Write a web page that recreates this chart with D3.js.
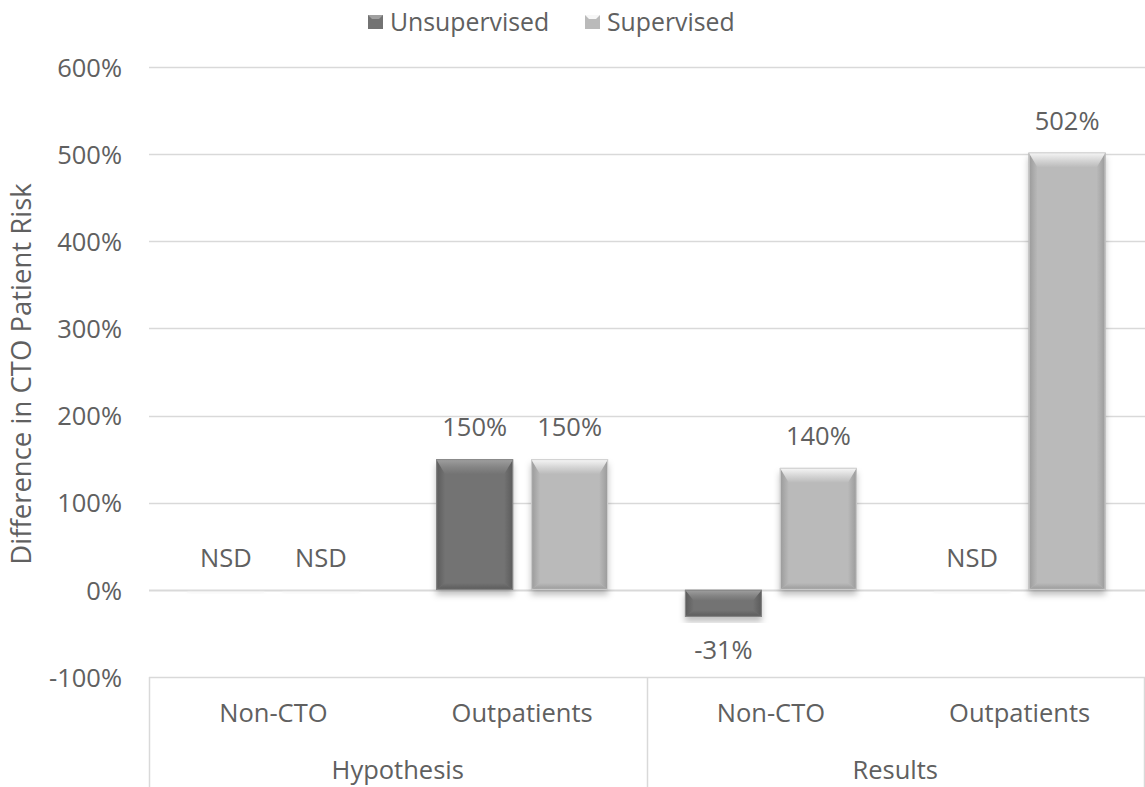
<!DOCTYPE html>
<html>
<head>
<meta charset="utf-8">
<script src="https://cdn.jsdelivr.net/npm/d3@7"></script>
<style>
  html, body { margin: 0; padding: 0; background: #ffffff; }
  svg { display: block; font-family: "Open Sans", sans-serif; }
  text { fill: #606060; }
</style>
</head>
<body>
<svg id="chart" width="1145" height="787"></svg>
<script>
// Chart data
const groups = ["Hypothesis", "Results"];
const categories = ["Non-CTO", "Outpatients"];
const seriesNames = ["Unsupervised", "Supervised"];
// values in percent; null means no significant difference (shown as NSD)
const unsupervised = [null, 150, -31, null];
const supervised = [null, 150, 140, 502];
const yTicks = [-100, 0, 100, 200, 300, 400, 500, 600];
const yTitle = "Difference in CTO Patient Risk";

const svg = d3.select("#chart");
const W = 1145, H = 787;
const plot = { left: 149, right: 1144, top: 67, bottom: 677 };
const FS = 25.5;

// one slot per group/category pair
const slots = [];
groups.forEach(g => categories.forEach(c => slots.push(g + "|" + c)));

const x0 = d3.scaleBand().domain(slots).range([plot.left, plot.right]);
const x1 = d3.scaleBand().domain(seriesNames).range([0, x0.bandwidth()]).paddingInner(0.19).paddingOuter(0.405);
const y = d3.scaleLinear().domain([-100, 600]).range([plot.bottom, plot.top]);

const colors = {
  Unsupervised: { base: "#737373", light: "#a0a0a0", mid: "#848484", dark: "#5a5a5a", edge: "#888888" },
  Supervised:   { base: "#bababa", light: "#f7f7f7", mid: "#d4d4d4", dark: "#999999", edge: "#d0d0d0" }
};

const defs = svg.append("defs");
const shadow = defs.append("filter").attr("id", "shadow")
  .attr("x", "-20%").attr("y", "-20%").attr("width", "140%").attr("height", "140%");
shadow.append("feDropShadow").attr("dx", 0).attr("dy", 5).attr("stdDeviation", 3)
  .attr("flood-color", "#000").attr("flood-opacity", 0.25);

// bevel gradients per series
function grad(id, x1g, y1g, x2g, y2g, stops) {
  const g = defs.append("linearGradient").attr("id", id)
    .attr("x1", x1g).attr("y1", y1g).attr("x2", x2g).attr("y2", y2g);
  stops.forEach(s => g.append("stop").attr("offset", s[0]).attr("stop-color", s[1]));
}
seriesNames.forEach(s => {
  const c = colors[s];
  grad("top-" + s, 0, 0, 0, 1, [[0, c.light], [0.55, c.mid], [1, c.base]]);
  grad("left-" + s, 0, 0, 1, 0, [[0, c.dark], [1, c.base]]);
  grad("right-" + s, 1, 0, 0, 0, [[0, c.dark], [1, c.base]]);
  grad("bottom-" + s, 0, 1, 0, 0, [[0, c.dark], [1, c.base]]);
});

// gridlines
svg.append("g").selectAll("line").data(yTicks).join("line")
  .attr("x1", plot.left).attr("x2", W)
  .attr("y1", d => Math.round(y(d)) + 0.5).attr("y2", d => Math.round(y(d)) + 0.5)
  .attr("stroke", "#d9d9d9").attr("stroke-width", d => d === 0 ? 2 : 1.3);

// y axis
const yAxis = svg.append("g").attr("transform", `translate(${plot.left - 27},0)`)
  .call(d3.axisLeft(y).tickValues(yTicks).tickFormat(d => d + "%").tickSize(0).tickPadding(0));
yAxis.select(".domain").remove();
yAxis.selectAll("text").attr("font-size", FS).attr("fill", "#606060")
  .attr("font-family", "Open Sans, sans-serif").attr("dy", "0.36em");

// y title
svg.append("text")
  .attr("transform", `translate(31,${374}) rotate(-90)`)
  .attr("text-anchor", "middle").attr("font-size", 27.5).text(yTitle);

// bars
const rows = [];
slots.forEach((s, i) => {
  rows.push({ slot: s, series: "Unsupervised", value: unsupervised[i] });
  rows.push({ slot: s, series: "Supervised", value: supervised[i] });
});

const barG = svg.append("g");
rows.forEach(r => {
  const v = r.value === null ? 0 : r.value;
  const bx = x0(r.slot) + x1(r.series);
  const bw = x1.bandwidth();
  const y0 = y(0), yv = y(v);
  const by = Math.min(y0, yv);
  const bh = Math.abs(y0 - yv);
  const c = colors[r.series];
  const s = r.series;
  const g = barG.append("g");
  if (r.value === null) {
    // zero-height bar: only a faint shadow remains visible
    g.append("rect").attr("x", bx).attr("y", y0 + 1).attr("width", bw).attr("height", 2)
      .attr("fill", "#f3f3f3").attr("filter", "url(#shadow)").attr("opacity", 0.45);
    return;
  }
  g.append("rect").attr("x", bx).attr("y", by).attr("width", bw).attr("height", bh)
    .attr("fill", c.base).attr("filter", "url(#shadow)");
  const bt = Math.min(15, bh * 0.4);   // top bevel depth
  const bb = Math.min(7, bh * 0.25);   // bottom bevel depth
  const bs = 9;                         // side bevel width
  const x2 = bx + bw, y2 = by + bh;
  g.append("path").attr("d", `M${bx},${by}L${bx + bs},${by + bt}L${bx + bs},${y2 - bb}L${bx},${y2}Z`).attr("fill", `url(#left-${s})`);
  g.append("path").attr("d", `M${x2},${by}L${x2 - bs},${by + bt}L${x2 - bs},${y2 - bb}L${x2},${y2}Z`).attr("fill", `url(#right-${s})`);
  g.append("path").attr("d", `M${bx},${y2}L${x2},${y2}L${x2 - bs},${y2 - bb}L${bx + bs},${y2 - bb}Z`).attr("fill", `url(#bottom-${s})`);
  g.append("path").attr("d", `M${bx},${by}L${x2},${by}L${x2 - bs},${by + bt}L${bx + bs},${by + bt}Z`).attr("fill", `url(#top-${s})`);
  g.append("rect").attr("x", bx + 0.5).attr("y", by + 0.5).attr("width", bw - 1).attr("height", bh - 1)
    .attr("fill", "none").attr("stroke", c.edge).attr("stroke-width", 1);
});

// value labels
svg.append("g").selectAll("text").data(rows).join("text")
  .attr("x", d => x0(d.slot) + x1(d.series) + x1.bandwidth() / 2)
  .attr("y", d => {
    const v = d.value === null ? 0 : d.value;
    return v < 0 ? y(v) + 33 : y(v) - 32;
  })
  .attr("dy", "0.36em")
  .attr("text-anchor", "middle").attr("font-size", FS)
  .text(d => d.value === null ? "NSD" : d.value + "%");

// category axis: separators and labels
const axisG = svg.append("g");
const sepX = [plot.left, x0(slots[2]), plot.right];
axisG.selectAll("line").data(sepX).join("line")
  .attr("x1", d => Math.round(d) + 0.5).attr("x2", d => Math.round(d) + 0.5)
  .attr("y1", plot.bottom).attr("y2", H)
  .attr("stroke", "#d9d9d9").attr("stroke-width", 1.5);

axisG.selectAll("text.cat").data(slots).join("text").attr("class", "cat")
  .attr("x", d => x0(d) + x0.bandwidth() / 2).attr("y", 713).attr("dy", "0.36em")
  .attr("text-anchor", "middle").attr("font-size", FS)
  .text(d => d.split("|")[1]);

axisG.selectAll("text.grp").data(groups).join("text").attr("class", "grp")
  .attr("x", (d, i) => (x0(slots[i * 2]) + x0(slots[i * 2 + 1]) + x0.bandwidth()) / 2)
  .attr("y", 770).attr("dy", "0.36em")
  .attr("text-anchor", "middle").attr("font-size", FS)
  .text(d => d);

// legend
const legend = svg.append("g");
const legendPos = [368, 585];
seriesNames.forEach((s, i) => {
  const c = colors[s];
  const lx = legendPos[i];
  legend.append("rect").attr("x", lx).attr("y", 15).attr("width", 15).attr("height", 14).attr("fill", c.base);
  legend.append("path").attr("d", `M${lx},15L${lx + 15},15L${lx + 11},19L${lx + 4},19Z`).attr("fill", c.light);
  legend.append("text").attr("x", lx + 22).attr("y", 22).attr("dy", "0.36em")
    .attr("font-size", 24.8).text(s);
});
</script>
</body>
</html>
